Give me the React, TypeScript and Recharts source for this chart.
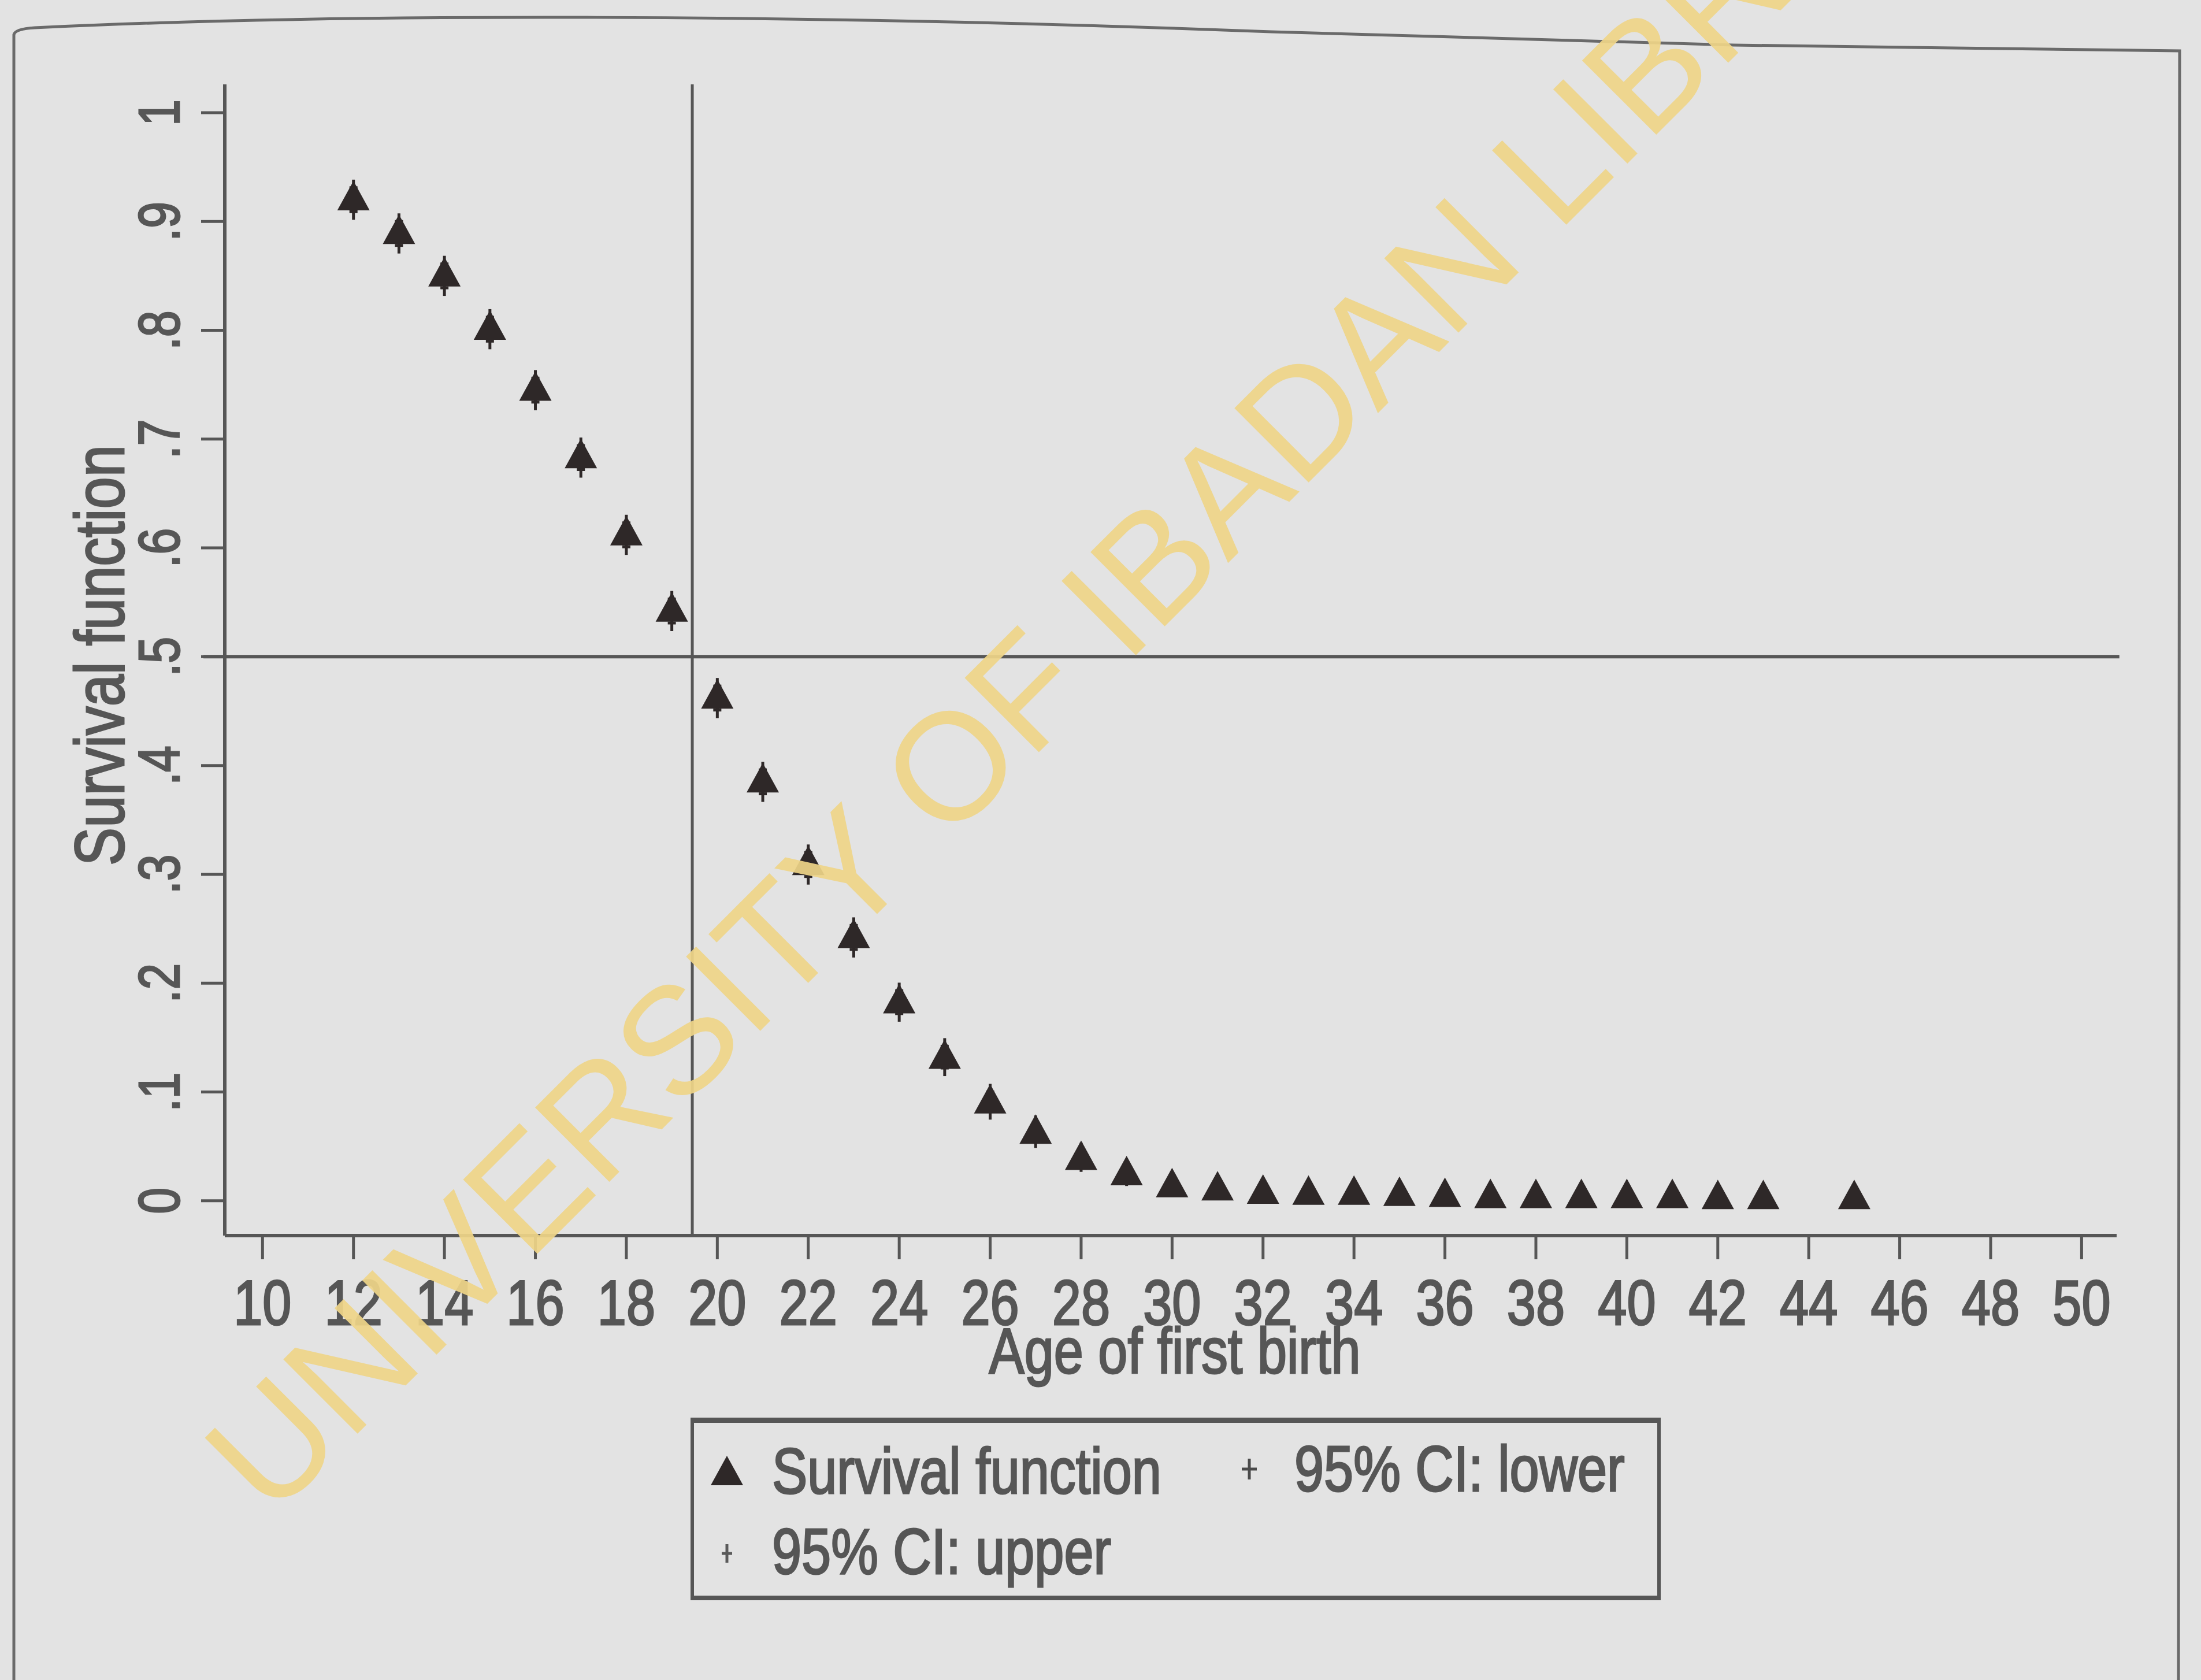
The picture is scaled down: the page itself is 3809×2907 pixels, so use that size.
import React from 'react';
import { ScatterChart, Scatter, XAxis, YAxis, ReferenceLine, Legend } from 'recharts';

// Kaplan-Meier estimate, age at first birth
const ages = [12, 13, 14, 15, 16, 17, 18, 19, 20, 21, 22, 23, 24, 25, 26, 27, 28, 29, 30, 31, 32, 33, 34, 35, 36, 37, 38, 39, 40, 41, 42, 43, 45];
const survival = [0.923, 0.892, 0.853, 0.804, 0.748, 0.686, 0.615, 0.545, 0.465, 0.388, 0.312, 0.245, 0.185, 0.134, 0.093, 0.065, 0.041, 0.027, 0.016, 0.013, 0.010, 0.009, 0.009, 0.008, 0.007, 0.006, 0.006, 0.006, 0.006, 0.006, 0.005, 0.005, 0.005];
const ciLower = [0.909, 0.878, 0.839, 0.790, 0.734, 0.672, 0.601, 0.531, 0.451, 0.374, 0.298, 0.231, 0.172, 0.122, 0.082, 0.056, 0.034, 0.021, 0.011, 0.009, 0.006, 0.005, 0.005, 0.004, 0.003, 0.003, 0.003, 0.003, 0.003, 0.003, 0.002, 0.002, 0.001];
const ciUpper = [0.931, 0.900, 0.861, 0.812, 0.756, 0.694, 0.623, 0.553, 0.473, 0.396, 0.320, 0.253, 0.193, 0.142, 0.100, 0.071, 0.046, 0.031, 0.019, 0.016, 0.013, 0.011, 0.011, 0.010, 0.009, 0.008, 0.008, 0.008, 0.008, 0.008, 0.007, 0.007, 0.007];

const xTicks = [10, 12, 14, 16, 18, 20, 22, 24, 26, 28, 30, 32, 34, 36, 38, 40, 42, 44, 46, 48, 50];
const yTicks = [0, 0.1, 0.2, 0.3, 0.4, 0.5, 0.6, 0.7, 0.8, 0.9, 1];
const yTickLabels = ['0', '.1', '.2', '.3', '.4', '.5', '.6', '.7', '.8', '.9', '1'];
const seriesNames = ['Survival function', '95% CI: lower', '95% CI: upper'];
const medianAge = 19.45;

const W = 3809;
const H = 2907;
const BG = '#e3e3e3';
const INK = '#565656';
const MARK = '#2e2828';
const FONT = '"Liberation Sans", Arial, sans-serif';
const NARROW = 0.82;

const survData = ages.map((a, i) => ({ age: a, value: survival[i] }));
const lowerData = ages.map((a, i) => ({ age: a, value: ciLower[i] }));
const upperData = ages.map((a, i) => ({ age: a, value: ciUpper[i] }));

const NarrowText = ({ x, y, rot = 0, size, children }: any) => (
  <text
    transform={`translate(${x} ${y}) rotate(${rot}) scale(${NARROW} 1)`}
    x={0}
    y={0}
    textAnchor="middle"
    dominantBaseline="central"
    fontFamily={FONT}
    fontSize={size}
    fill={INK}
    stroke={INK}
    strokeWidth={3}
  >
    {children}
  </text>
);

const Triangle = (props: any) => {
  const { cx, cy } = props;
  if (cx == null || cy == null) return null;
  return <path d={`M${cx},${cy - 27} L${cx + 28},${cy + 24} L${cx - 28},${cy + 24} Z`} fill={MARK} />;
};

const Plus = (props: any) => {
  const { cx, cy, arm = 7, stem = 14, color = MARK } = props;
  if (cx == null || cy == null) return null;
  return (
    <g stroke={color} strokeWidth={5}>
      <line x1={cx - arm} y1={cy} x2={cx + arm} y2={cy} />
      <line x1={cx} y1={cy - stem} x2={cx} y2={cy + stem} />
    </g>
  );
};

const XTick = (props: any) => {
  const { x, payload } = props;
  return <NarrowText x={x} y={2254} size={110}>{payload.value}</NarrowText>;
};

const YTick = (props: any) => {
  const { y, payload } = props;
  const idx = yTicks.indexOf(payload.value);
  return <NarrowText x={275} y={y} rot={-90} size={100}>{yTickLabels[idx]}</NarrowText>;
};

const spanStyle = (left: number, top: number): React.CSSProperties => ({
  position: 'absolute',
  left,
  top,
  transform: `translateY(-50%) scaleX(${NARROW})`,
  transformOrigin: 'left center',
  lineHeight: 1,
  whiteSpace: 'nowrap',
  WebkitTextStroke: `3px ${INK}`,
});

const renderLegend = () => (
  <div style={{ position: 'absolute', left: 0, top: 0, width: 1679, height: 316, boxSizing: 'border-box', border: `6px solid ${INK}`, borderTopWidth: 9, borderBottomWidth: 8, fontFamily: FONT, fontSize: 112, color: INK }}>
    <svg style={{ position: 'absolute', left: 0, top: 0 }} width={1679} height={316}>
      <Triangle cx={57} cy={84} />
      <Plus cx={961} cy={80} arm={13} stem={18} color="#4a4a4a" />
      <Plus cx={57} cy={226} arm={9} stem={16} color="#5a5a5a" />
    </svg>
    <span style={spanStyle(135, 84)}>{seriesNames[0]}</span>
    <span style={spanStyle(1039, 80)}>{seriesNames[1]}</span>
    <span style={spanStyle(135, 223)}>{seriesNames[2]}</span>
  </div>
);

export default function App() {
  return (
    <div style={{ position: 'absolute', left: 0, top: 0, width: W, height: H, background: BG, overflow: 'hidden' }}>
      <ScatterChart width={W} height={H} margin={{ top: 146, right: 146, bottom: 609, left: 189 }}>
        <XAxis
          type="number"
          dataKey="age"
          domain={[9.17, 50.77]}
          ticks={xTicks}
          allowDataOverflow
          height={160}
          tickSize={41}
          tick={<XTick />}
          tickLine={{ stroke: INK, strokeWidth: 5 }}
          axisLine={{ stroke: INK, strokeWidth: 6 }}
          label={{
            content: () => <NarrowText x={2033} y={2337} size={112}>Age of first birth</NarrowText>,
          }}
        />
        <YAxis
          type="number"
          dataKey="value"
          domain={[-0.032, 1.026]}
          ticks={yTicks}
          allowDataOverflow
          width={200}
          tickSize={41}
          tick={<YTick />}
          tickLine={{ stroke: INK, strokeWidth: 5 }}
          axisLine={{ stroke: INK, strokeWidth: 6 }}
          label={{
            content: () => <NarrowText x={172} y={1134} rot={-90} size={121}>Survival function</NarrowText>,
          }}
        />
        <ReferenceLine
          segment={[{ x: 8.7, y: 0.5 }, { x: 50.83, y: 0.5 }]}
          stroke={INK}
          strokeWidth={6}
          ifOverflow="visible"
        />
        <ReferenceLine x={medianAge} stroke={INK} strokeWidth={5} />
        <Scatter name={seriesNames[1]} data={lowerData} shape={<Plus />} isAnimationActive={false} />
        <Scatter name={seriesNames[2]} data={upperData} shape={<Plus />} isAnimationActive={false} />
        <Scatter name={seriesNames[0]} data={survData} shape={<Triangle />} isAnimationActive={false} />
        <Legend
          content={renderLegend}
          wrapperStyle={{ position: 'absolute', left: 1195, top: 2453, width: 0, height: 0, bottom: 'auto', overflow: 'visible' }}
        />
      </ScatterChart>
      <svg style={{ position: 'absolute', left: 0, top: 0, pointerEvents: 'none' }} width={W} height={H}>
        <path
          d="M24,2907 L24,60 Q26,50 60,48 C600,22 1400,24 2200,55 L3000,78 L3772,88 L3770,2907"
          fill="none"
          stroke="#6a6a6a"
          strokeWidth={5}
        />
        <text
          x={1915}
          y={1055}
          transform="rotate(-45 1915 1055)"
          textAnchor="middle"
          dominantBaseline="central"
          fontFamily='"Liberation Sans", Arial, sans-serif'
          fontSize={264}
          fill="#efd588"
          opacity={0.92}
        >
          UNIVERSITY OF IBADAN LIBRARY
        </text>
      </svg>
    </div>
  );
}
